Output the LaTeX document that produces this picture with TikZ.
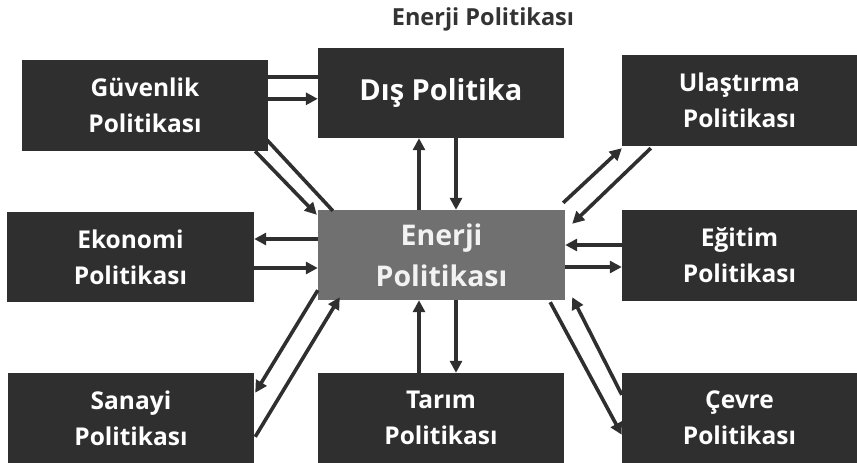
\documentclass[tikz,border=0pt]{standalone}
\usepackage{fontspec}
\setmainfont{Open Sans}
\usetikzlibrary{arrows.meta,calc}
\definecolor{boxdark}{HTML}{2F2F2F}
\definecolor{boxmid}{HTML}{707070}
\definecolor{titlegray}{HTML}{333333}
\tikzset{
  polbox/.style={fill=boxdark, draw=none, text=white, font=\bfseries\fontsize{24.5}{36}\selectfont,
    align=center, inner sep=0pt},
  link/.style={line width=3.6pt, draw=boxdark},
  flow/.style={link, -{Triangle[length=12pt,width=12pt]}}
}
\begin{document}
\begin{tikzpicture}[x=1pt,y=-1pt]
\useasboundingbox (0,0) rectangle (857,463);

% title
\node (title) [text=titlegray, font=\bfseries\fontsize{23.5}{28}\selectfont] at (483,19) {Enerji Politikası};

% policy boxes
\node (gu)  [polbox, minimum width=246pt, minimum height=91pt] at (145,105.5) {Güvenlik\\Politikası};
\node (dis) [polbox, minimum width=246pt, minimum height=90pt, font=\bfseries\fontsize{29}{36}\selectfont] at (441,93) {Dış Politika};
\node (ul)  [polbox, minimum width=235pt, minimum height=91pt] at (739.5,100.5) {Ulaştırma\\Politikası};
\node (ek)  [polbox, minimum width=247pt, minimum height=90pt] at (130.5,257) {Ekonomi\\Politikası};
\node (en)  [polbox, fill=boxmid, text=white!95!black, minimum width=247pt, minimum height=90pt,
             font=\bfseries\fontsize{28.5}{41}\selectfont] at (441.5,255) {Enerji\\Politikası};
\node (eg)  [polbox, minimum width=235pt, minimum height=91pt] at (739.5,255.5) {Eğitim\\Politikası};
\node (sa)  [polbox, minimum width=246pt, minimum height=90pt] at (131,418) {Sanayi\\Politikası};
\node (ta)  [polbox, minimum width=246pt, minimum height=90pt] at (441,418) {Tarım\\Politikası};
\node (ce)  [polbox, minimum width=235pt, minimum height=90pt] at (739.5,418) {Çevre\\Politikası};

% security <-> foreign policy
\draw[link] ($(gu.north east)+(0,17)$) -- ($(dis.north west)+(0,29)$);
\draw[flow] ($(gu.north east)+(0,39)$) -- ($(dis.north west)+(0,51)$);

% security <-> energy
\draw[flow] ($(gu.south east)+(-13,0)$) -- ($(en.north west)+(-1,5)$);
\draw[link] ($(en.north west)+(15,1)$) -- ($(gu.south east)+(-1,-11)$);

% foreign policy <-> energy
\draw[flow] ($(en.north)+(-22.5,0)$) -- ($(dis.south)+(-22,0)$);
\draw[flow] ($(dis.south)+(15,0)$) -- ($(en.north)+(14.5,0)$);

% transport <-> energy
\draw[flow] ($(en.north east)+(-2,-7)$) -- ($(ul.south west)+(0,2)$);
\draw[flow] ($(ul.south west)+(29,2)$) -- ($(en.north east)+(7,14)$);

% economy <-> energy
\draw[flow] ($(en.west)+(0,-16)$) -- ($(ek.east)+(0,-18)$);
\draw[flow] ($(ek.east)+(0,11)$) -- ($(en.west)+(0,13)$);

% education <-> energy
\draw[flow] ($(eg.west)+(0,-10.5)$) -- ($(en.east)+(0,-10)$);
\draw[flow] ($(en.east)+(0,12)$) -- ($(eg.west)+(0,11.5)$);

% industry <-> energy
\draw[flow] ($(en.south west)+(0,-10)$) -- ($(sa.north east)+(1,20)$);
\draw[flow] ($(sa.north east)+(1,64)$) -- ($(en.south west)+(22,-3)$);

% agriculture <-> energy
\draw[flow] ($(en.south)+(14.5,0)$) -- ($(ta.north)+(15,0)$);
\draw[flow] ($(ta.north)+(-22,0)$) -- ($(en.south)+(-22.5,0)$);

% environment <-> energy
\draw[flow] ($(en.south east)+(-15,2)$) -- ($(ce.north west)+(0,62)$);
\draw[flow] ($(ce.north west)+(0,22)$) -- ($(en.south east)+(7,-3)$);
\end{tikzpicture}
\end{document}
